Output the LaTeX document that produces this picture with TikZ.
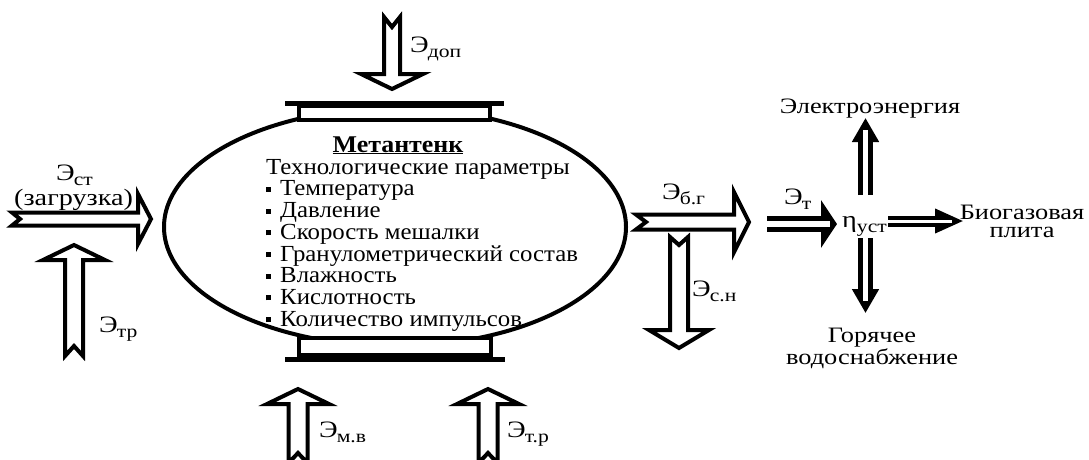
\documentclass[tikz,border=0pt]{standalone}
\usepackage{fontspec}
\setmainfont[FakeStretch=1.08]{Liberation Serif}
\newfontfamily\labelfont[FakeStretch=1.2]{Liberation Serif}
\usetikzlibrary{shapes.geometric,calc,arrows.meta}

% energy label with lowered subscript
\newcommand{\energy}[1]{Э\kern-1pt\raisebox{-5pt}{\fontsize{18}{18}\selectfont #1}}
\newcommand{\bul}{\raisebox{4pt}{\rule{5pt}{5pt}}\hspace{9pt}}
% hollow block arrow: tail, tip, half shaft, half head, head length, notch
\newcommand{\flow}[6]{%
  \path ($(#2)!#5!(#1)$) coordinate (hb);
  \draw[hollow] ($(#1)!#3!90:(#2)$) -- ($(hb)!#3!90:(#2)$) -- ($(hb)!#4!90:(#2)$) -- (#2)
    -- ($(hb)!#4!-90:(#2)$) -- ($(hb)!#3!-90:(#2)$) -- ($(#1)!#3!-90:(#2)$)
    -- ($(#1)!#6!(#2)$) -- cycle;
}

\tikzset{
  hollow/.style={draw, line width=4pt, fill=white, line join=miter},
  tank/.style={ellipse, draw, line width=4pt, inner sep=0pt},
  flange/.style={rectangle, draw, line width=4pt, fill=white, inner sep=0pt},
  bar/.style={line width=5pt},
  lbl/.style={inner sep=0pt, font=\labelfont\fontsize{23.5}{24}\selectfont},
  small/.style={inner sep=0pt, font=\labelfont\fontsize{22}{18}\selectfont},
  wide/.style={double, double distance=6pt, line width=5pt,
    -{Triangle[length=16pt,width=47pt]}},
  slim/.style={double, double distance=5pt, line width=5pt,
    -{Triangle[length=24pt,width=26pt]}},
  thin/.style={double, double distance=3pt, line width=4pt,
    -{Triangle[length=28pt,width=24pt]}},
  stripe/.style={draw=white, line width=#1},
}

\begin{document}
\begin{tikzpicture}[x=1pt, y=-1pt]
  \useasboundingbox (0,0) rectangle (1089,459);

  % Tank
  \node[tank, minimum width=462pt, minimum height=238pt] (tank) at (395,227) {};
  \node[flange, minimum width=191pt, minimum height=14pt] (lid) at (394.5,113) {};
  \node[flange, minimum width=192pt, minimum height=17pt] (base) at (395,346.5) {};
  \draw[bar] ($(lid.north west)+(-12,-1)$) -- ($(lid.north east)+(12,-1)$);
  \draw[bar] ($(base.south west)+(-12,2)$) -- ($(base.south east)+(12,2)$);

  \node[inner sep=0pt, anchor=base, font=\fontsize{24}{24}\selectfont\bfseries] (title) at (398,152) {\underline{Метантенк}};
  \node[inner sep=0pt, anchor=north west, align=left, font=\fontsize{23}{21.7}\selectfont] (params) at (266,159)
    {Технологические параметры\\
     \bul Температура\\
     \bul Давление\\
     \bul Скорость мешалки\\
     \bul Гранулометрический состав\\
     \bul Влажность\\
     \bul Кислотность\\
     \bul Количество импульсов};

  % Arrow ends
  \coordinate (st-a) at (12,219);   \coordinate (st-b) at (151,219);
  \coordinate (tr-a) at (74,356);   \coordinate (tr-b) at (74,245);
  \coordinate (dop-a) at (392,17);  \coordinate (dop-b) at (392,89);
  \coordinate (mv-a) at (298,463);  \coordinate (mv-b) at (298,389);
  \coordinate (trp-a) at (488,463); \coordinate (trp-b) at (488,389);
  \coordinate (bg-a) at (636,222);  \coordinate (bg-b) at (749,222);
  \coordinate (sn-a) at (679,237);  \coordinate (sn-b) at (679,348);

  % Hollow arrows
  \flow{st-a}{st-b}{6.5pt}{25pt}{13pt}{8pt}
  \flow{tr-a}{tr-b}{9pt}{31pt}{15pt}{10pt}
  \flow{dop-a}{dop-b}{8pt}{31pt}{15pt}{10pt}
  \flow{mv-a}{mv-b}{9.5pt}{31pt}{15pt}{10pt}
  \flow{trp-a}{trp-b}{9.5pt}{31pt}{15pt}{10pt}
  \flow{bg-a}{bg-b}{7.5pt}{30pt}{15pt}{10pt}
  \flow{sn-a}{sn-b}{9pt}{30pt}{18pt}{8pt}

  % Energy labels
  \node[lbl, anchor=base west] (est) at (56,180) {\energy{ст}};
  \node[lbl, anchor=base west] (load) at (14,205) {(загрузка)};
  \node[lbl, anchor=base west] (etr) at (99,332) {\energy{тр}};
  \node[lbl, anchor=base west] (edop) at (410,52) {\energy{доп}};
  \node[lbl, anchor=base west] (emv) at (319,437) {\energy{м.в}};
  \node[lbl, anchor=base west] (etrp) at (507,437) {\energy{т.р}};
  \node[lbl, anchor=base west] (ebg) at (662,199) {\energy{б.г}};
  \node[lbl, anchor=base west] (esn) at (692,296) {\energy{с.н}};
  \node[lbl, anchor=base west] (et) at (784,204) {\energy{т}};

  % Plant and outputs
  \node[lbl, anchor=base west] (eta) at (842,227) {η\raisebox{-5pt}{\fontsize{18}{18}\selectfont уст}};
  \node[small, anchor=base] (elec) at (870,113) {Электроэнергия};
  \node[small, anchor=north, align=center] (stove) at (1022,205) {Биогазовая\\плита};
  \node[small, anchor=north, align=center] (water) at (872,328) {Горячее\\водоснабжение};

  \coordinate (t-a) at (767,224);   \coordinate (t-b) at (837,224);
  \coordinate (up-a) at (865.5,195); \coordinate (up-b) at (865.5,118);
  \coordinate (dn-a) at (865.5,238); \coordinate (dn-b) at (865.5,313);
  \coordinate (rt-a) at (888,221);  \coordinate (rt-b) at (963,221);

  \draw[wide] (t-a) -- (t-b);
  \draw[slim] (up-a) -- (up-b);
  \draw[slim] (dn-a) -- (dn-b);
  \draw[thin] (rt-a) -- (rt-b);
  % white gap running into the heads
  \draw[stripe=6pt, shorten >=7pt] (t-a) -- (t-b);
  \draw[stripe=5pt, shorten >=12pt] (up-a) -- (up-b);
  \draw[stripe=5pt, shorten >=12pt] (dn-a) -- (dn-b);
  \draw[stripe=3pt, shorten >=11pt] (rt-a) -- (rt-b);

\end{tikzpicture}
\end{document}
